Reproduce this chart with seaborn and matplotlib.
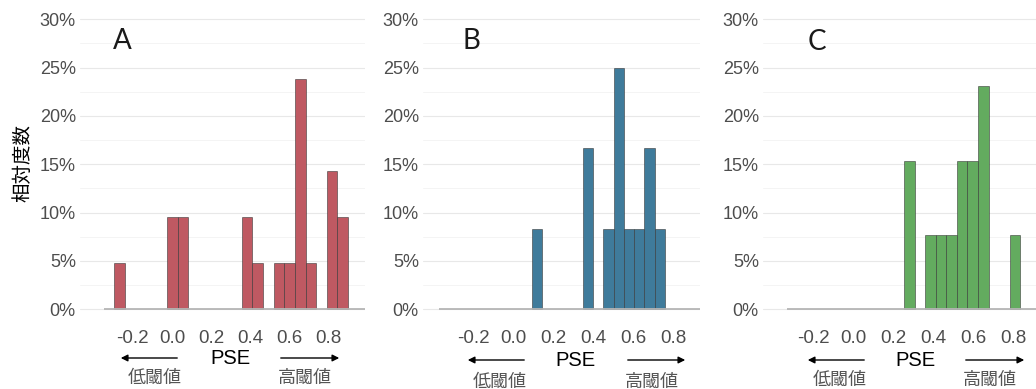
import numpy as np
import pandas as pd
import matplotlib
matplotlib.use('Agg')
import matplotlib.pyplot as plt
from matplotlib.ticker import PercentFormatter, MultipleLocator
import seaborn as sns

# panel A (red)
start_a = -0.296
width_a = 0.0543
counts_a = [1, 0, 0, 0, 0, 2, 2, 0, 0, 0, 0, 0, 2, 1, 0, 1, 1, 5, 1, 0, 3, 2]

# panel B (blue)
start_b = 0.089
width_b = 0.0513
counts_b = [1, 0, 0, 0, 0, 2, 0, 1, 3, 1, 1, 2, 1]

# panel C (green)
start_c = 0.251
width_c = 0.0529
counts_c = [2, 0, 1, 1, 1, 2, 2, 3, 0, 0, 1]

letters = ['A', 'B', 'C']
xticks = [-0.2, 0.0, 0.2, 0.4, 0.6, 0.8]
yticks = [0, 0.05, 0.10, 0.15, 0.20, 0.25, 0.30]
colors = ['#BF5962', '#3F7B9B', '#63AB5F']

sns.set_theme(style='white')
plt.rcParams['font.family'] = ['Liberation Sans', 'Noto Sans CJK JP', 'DejaVu Sans']

W, H = 1036, 389
fig = plt.figure(figsize=(W / 100, H / 100), dpi=100)

# pixel layout for each panel: left, right, x at 0, px per unit, baseline start
layout = [
    dict(left=80, right=365, zero=172.0, scale=196.0, base=-0.347),
    dict(left=423, right=700, zero=513.8, scale=200.0, base=-0.374),
    dict(left=763, right=1036, zero=853.8, scale=200.0, base=-0.334),
]
top_px, bot_px = 9.6, 312.2

panels = [(start_a, width_a, counts_a), (start_b, width_b, counts_b), (start_c, width_c, counts_c)]

for i, ((start, width, counts), lay) in enumerate(zip(panels, layout)):
    ax = fig.add_axes([lay['left'] / W, (H - bot_px) / H,
                       (lay['right'] - lay['left']) / W, (bot_px - top_px) / H])
    counts = np.array(counts, dtype=float)
    edges = start + width * np.arange(len(counts) + 1)
    centers = edges[:-1] + width / 2
    df = pd.DataFrame({'pse': centers, 'n': counts})
    df = df[df['n'] > 0]
    sns.histplot(data=df, x='pse', weights='n', bins=edges.tolist(), stat='probability',
                 ax=ax, color=colors[i], alpha=1, edgecolor=(0.2, 0.2, 0.2, 0.55), linewidth=0.7)
    for p in ax.patches:
        if p.get_height() == 0:
            p.set_visible(False)

    x0 = (lay['left'] - lay['zero']) / lay['scale']
    x1 = (lay['right'] - lay['zero']) / lay['scale']
    ax.set_xlim(x0, x1)
    ax.set_ylim(-0.003, 0.31)
    ax.hlines(0, lay['base'], x1, color='#B5B5B5', lw=1.3, zorder=5, clip_on=False)

    ax.set_xticks(xticks)
    ax.set_xticklabels([f'{t:.1f}' for t in xticks])
    ax.set_yticks(yticks)
    ax.yaxis.set_major_formatter(PercentFormatter(1.0, decimals=0))
    ax.yaxis.set_minor_locator(MultipleLocator(0.025))
    ax.grid(axis='y', which='major', color='#E8E8E8', lw=0.8)
    ax.grid(axis='y', which='minor', color='#F2F2F2', lw=0.6)
    ax.grid(axis='x', visible=False)
    ax.set_axisbelow(True)
    ax.tick_params(axis='x', length=0, pad=13, labelsize=13.5, labelcolor='#4D4D4D')
    ax.tick_params(axis='y', which='both', length=0, pad=3, labelsize=13, labelcolor='#4D4D4D')
    for s in ax.spines.values():
        s.set_visible(False)
    ax.set_xlabel('')
    ax.set_ylabel('')
    ax.patch.set_alpha(0)

# panel letters
for lab, (x, y) in zip(letters, [(122, 41), (471, 41), (817, 42)]):
    fig.text(x / W, 1 - y / H, lab, ha='center', va='center', fontsize=20,
             family=['Lato', 'DejaVu Sans'], fontweight='normal', color='#1a1a1a')

# PSE label, arrows and threshold labels
pse_pos = [(230, 359), (575, 360), (915, 360)]
arrows_l = [(118, 180, 358), (465, 527, 360), (805, 867, 360)]
arrows_r = [(278, 342, 358), (625, 688, 360), (963, 1027, 360)]
low_pos = [(155, 378), (500, 382), (840, 380)]
high_pos = [(305, 378), (652, 382), (990, 380)]

for i in range(3):
    x, y = pse_pos[i]
    fig.text(x / W, 1 - y / H, 'PSE', ha='center', va='center', fontsize=14.5, color='black')
    a, b, y = arrows_l[i]
    fig.add_artist(matplotlib.patches.FancyArrowPatch((b / W, 1 - y / H), (a / W, 1 - y / H),
                   transform=fig.transFigure, arrowstyle='-|>', mutation_scale=10,
                   color='black', lw=1))
    a, b, y = arrows_r[i]
    fig.add_artist(matplotlib.patches.FancyArrowPatch((a / W, 1 - y / H), (b / W, 1 - y / H),
                   transform=fig.transFigure, arrowstyle='-|>', mutation_scale=10,
                   color='black', lw=1))
    x, y = low_pos[i]
    fig.text(x / W, 1 - y / H, '低閾値', ha='center', va='center', fontsize=13, color='#555555')
    x, y = high_pos[i]
    fig.text(x / W, 1 - y / H, '高閾値', ha='center', va='center', fontsize=13, color='#555555')

fig.text(23 / W, 1 - 163 / H, '相対度数', ha='center', va='center', rotation=90,
         fontsize=14, color='black', family=['Noto Sans CJK JP'])

fig.savefig('out.png', dpi=100)
